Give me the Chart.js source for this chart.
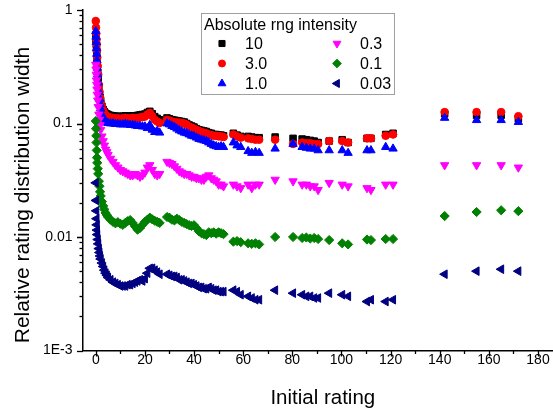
<!DOCTYPE html>
<html>
<head>
<meta charset="utf-8">
<script src="https://cdn.jsdelivr.net/npm/chart.js@4.4.0/dist/chart.umd.min.js"></script>
<style>
html,body{margin:0;padding:0;background:#fff}
</style>
</head>
<body>
<canvas id="c" width="553" height="412"></canvas>
<script>
// initial rating values shared by every intensity series
const ratings = [
0, 0.1, 0.2, 0.3, 0.4, 0.5, 0.6, 0.8, 1, 1.25, 1.5, 1.75, 2, 2.5, 3, 3.5, 4, 4.5, 5, 6,
7, 8, 9, 10, 11, 12, 13, 14, 15, 16, 17, 18, 19, 20, 21, 22, 23, 24, 25, 26,
29, 30, 31, 32, 33, 34, 35, 36, 37, 38, 39, 40, 41, 42, 43, 44, 45, 46, 47, 48,
49, 50, 51, 52, 56, 57.5, 59, 62, 63.5, 65, 66.5,
73, 80.3, 84, 85.7, 87.3, 88.9, 90.5, 95, 100.3, 102.7, 110.4, 112, 118, 121, 142, 155, 165, 172];

const width10 = [
0.60, 0.55, 0.50, 0.45, 0.40, 0.36, 0.32, 0.28, 0.25, 0.21, 0.185, 0.17, 0.158, 0.142, 0.133, 0.127, 0.123, 0.121, 0.12, 0.118,
0.117, 0.116, 0.116, 0.115, 0.116, 0.117, 0.116, 0.116, 0.117, 0.116, 0.118, 0.119, 0.12, 0.121, 0.125, 0.128, 0.122, 0.115, 0.111, 0.108,
0.112, 0.11, 0.108, 0.107, 0.106, 0.105, 0.104, 0.103, 0.1, 0.097, 0.095, 0.093, 0.09, 0.088, 0.087, 0.086, 0.085, 0.083, 0.082, 0.08,
0.08, 0.079, 0.079, 0.078, 0.082, 0.079, 0.077, 0.077, 0.076, 0.075, 0.075,
0.076, 0.074, 0.073, 0.072, 0.071, 0.07, 0.068, 0.07, 0.072, 0.068, 0.074, 0.074, 0.08, 0.082, 0.122, 0.118, 0.118, 0.11];

const width3 = [
0.80, 0.70, 0.62, 0.55, 0.50, 0.44, 0.38, 0.32, 0.27, 0.22, 0.19, 0.17, 0.155, 0.14, 0.13, 0.123, 0.119, 0.116, 0.114, 0.113,
0.112, 0.111, 0.111, 0.11, 0.111, 0.112, 0.111, 0.111, 0.112, 0.111, 0.112, 0.113, 0.114, 0.115, 0.12, 0.124, 0.116, 0.108, 0.104, 0.101,
0.108, 0.106, 0.104, 0.103, 0.102, 0.102, 0.101, 0.1, 0.098, 0.094, 0.092, 0.09, 0.088, 0.086, 0.084, 0.083, 0.082, 0.08, 0.079, 0.078,
0.078, 0.077, 0.077, 0.076, 0.08, 0.077, 0.075, 0.074, 0.073, 0.072, 0.072,
0.072, 0.066, 0.068, 0.067, 0.067, 0.066, 0.066, 0.07, 0.07, 0.068, 0.074, 0.074, 0.078, 0.08, 0.126, 0.126, 0.126, 0.116];

const width1 = [
0.65, 0.58, 0.52, 0.46, 0.41, 0.36, 0.31, 0.27, 0.23, 0.19, 0.165, 0.148, 0.135, 0.12, 0.112, 0.107, 0.104, 0.102, 0.101, 0.1,
0.1, 0.099, 0.099, 0.098, 0.098, 0.099, 0.098, 0.097, 0.097, 0.096, 0.095, 0.095, 0.094, 0.094, 0.091, 0.097, 0.088, 0.084, 0.086, 0.083,
0.1, 0.098, 0.095, 0.093, 0.09, 0.087, 0.085, 0.083, 0.082, 0.08, 0.078, 0.077, 0.075, 0.073, 0.072, 0.071, 0.07, 0.068, 0.066, 0.064,
0.063, 0.062, 0.063, 0.062, 0.068, 0.064, 0.062, 0.057, 0.055, 0.056, 0.055,
0.06, 0.066, 0.062, 0.061, 0.06, 0.06, 0.058, 0.058, 0.058, 0.055, 0.058, 0.058, 0.062, 0.06, 0.112, 0.107, 0.107, 0.103];

const width03 = [
0.33, 0.30, 0.27, 0.24, 0.22, 0.20, 0.18, 0.16, 0.14, 0.12, 0.108, 0.097, 0.088, 0.077, 0.07, 0.064, 0.059, 0.056, 0.053, 0.049,
0.046, 0.043, 0.041, 0.039, 0.038, 0.037, 0.036, 0.035, 0.035, 0.036, 0.035, 0.034, 0.035, 0.037, 0.041, 0.043, 0.039, 0.036, 0.035, 0.036,
0.046, 0.045, 0.044, 0.042, 0.04, 0.038, 0.037, 0.036, 0.036, 0.035, 0.034, 0.034, 0.033, 0.033, 0.032, 0.032, 0.034, 0.035, 0.033, 0.032,
0.031, 0.029, 0.029, 0.028, 0.029, 0.028, 0.027, 0.029, 0.027, 0.029, 0.029,
0.032, 0.031, 0.029, 0.029, 0.028, 0.028, 0.026, 0.03, 0.029, 0.028, 0.027, 0.026, 0.029, 0.029, 0.043, 0.043, 0.043, 0.041];

const width01 = [
0.105, 0.09, 0.078, 0.068, 0.058, 0.05, 0.045, 0.04, 0.036, 0.031, 0.028, 0.025, 0.023, 0.0205, 0.0188, 0.0175, 0.0163, 0.0156, 0.015, 0.0142,
0.0136, 0.0132, 0.0135, 0.0131, 0.0128, 0.0133, 0.0138, 0.0141, 0.0133, 0.0124, 0.0116, 0.012, 0.0128, 0.0136, 0.0142, 0.0148, 0.0143, 0.0139, 0.0136, 0.0133,
0.015, 0.0148, 0.0142, 0.014, 0.0145, 0.0141, 0.0136, 0.0133, 0.013, 0.0127, 0.0125, 0.0127, 0.012, 0.0112, 0.0108, 0.0106, 0.0104, 0.011, 0.0108, 0.011,
0.0107, 0.011, 0.0108, 0.0106, 0.0091, 0.0092, 0.009, 0.0088, 0.0087, 0.0088, 0.0086,
0.01, 0.01, 0.0098, 0.0099, 0.0097, 0.0098, 0.0096, 0.0094, 0.0088, 0.0086, 0.0095, 0.0094, 0.0096, 0.0096, 0.0153, 0.0166, 0.0172, 0.0169];

const width003 = [
0.03, 0.021, 0.017, 0.0145, 0.0128, 0.0115, 0.0105, 0.0095, 0.0087, 0.0079, 0.0073, 0.0068, 0.0064, 0.0059, 0.0055, 0.0051, 0.0048, 0.0046, 0.0044, 0.0042,
0.004, 0.0039, 0.0038, 0.0037, 0.0037, 0.0037, 0.0038, 0.0038, 0.0039, 0.004, 0.0041, 0.0042, 0.0041, 0.0043, 0.0048, 0.0053, 0.0053, 0.0051, 0.0049, 0.0047,
0.0047, 0.0046, 0.0045, 0.0045, 0.0044, 0.0042, 0.0042, 0.0041, 0.004, 0.0039, 0.0039, 0.0038, 0.0037, 0.0036, 0.0036, 0.0035, 0.0035, 0.0036, 0.0035, 0.0034,
0.0034, 0.0033, 0.0033, 0.0033, 0.0034, 0.0033, 0.0031, 0.003, 0.0029, 0.0028, 0.0028,
0.0034, 0.0032, 0.0031, 0.003, 0.003, 0.0029, 0.0029, 0.0032, 0.0031, 0.003, 0.0027, 0.0028, 0.0027, 0.0028, 0.0047, 0.005, 0.0052, 0.005];

const seriesLabels = ['10', '3.0', '1.0', '0.3', '0.1', '0.03'];
const xTicks = [0, 20, 40, 60, 80, 100, 120, 140, 160, 180];
const yTicks = [0.001, 0.01, 0.1, 1];
const yTickLabels = ['1E-3', '0.01', '0.1', '1'];

const FONT = 'Arial, "Liberation Sans", sans-serif';

// marker look per series, Origin style
const styles = [
{ color:'#000000', shape:'rect', r:4.6, rot:0 },
{ color:'#ff0000', shape:'circle', r:3.8, rot:0 },
{ color:'#0000ff', shape:'triangle', r:4.8, rot:0 },
{ color:'#ff00ff', shape:'triangle', r:4.8, rot:180 },
{ color:'#008000', shape:'rectRot', r:4.6, rot:0 },
{ color:'#000080', shape:'triangle', r:5.0, rot:270 }
];

function pts(ys){ return ratings.map((x,i)=>({ x, y: ys[i] })); }

const allSeries = [width10, width3, width1, width03, width01, width003];
const datasets = allSeries.map((ys,i)=>({
label: seriesLabels[i],
data: pts(ys),
order: allSeries.length - i,   // later series painted on top
pointStyle: styles[i].shape,
pointRadius: styles[i].r,
pointRotation: styles[i].rot,
pointBackgroundColor: styles[i].color,
pointBorderColor: styles[i].color,
backgroundColor: styles[i].color,
borderColor: styles[i].color,
pointBorderWidth: 1,
pointHoverRadius: styles[i].r
}));

function line(ctx,x1,y1,x2,y2){ ctx.beginPath(); ctx.moveTo(x1,y1); ctx.lineTo(x2,y2); ctx.stroke(); }

// tick marks (major + minor) and axis titles
const axisDecor = {
id: 'axisDecor',
afterDraw(chart){
const { ctx, scales:{ x, y }, chartArea:a } = chart;
ctx.save();
ctx.strokeStyle = '#000'; ctx.lineWidth = 1.3;
for (let v = 0; v <= 180; v += 10){
const p = Math.round(x.getPixelForValue(v)) + 0.5;
line(ctx, p, a.bottom, p, a.bottom + (v % 20 ? 3.5 : 6));
}
[0.001, 0.01, 0.1].forEach(d=>{
for (let k = 1; k <= 10; k++){
const v = d*k;
if (v > 1.0000001) continue;
const p = Math.round(y.getPixelForValue(v)) + 0.5;
line(ctx, a.left, p, a.left - ((k === 1 || k === 10) ? 6 : 3.5), p);
}
});
ctx.fillStyle = '#000';
ctx.font = '20.5px ' + FONT;
ctx.textAlign = 'center'; ctx.textBaseline = 'alphabetic';
ctx.fillText('Initial rating', 322.8, 404);
ctx.translate(29, 195);
ctx.rotate(-Math.PI/2);
ctx.font = '21px ' + FONT;
ctx.fillText('Relative rating distribution width', 0, 0);
ctx.restore();
}
};

// two-column legend box inside the plot
const legendBox = {
id: 'legendBox',
afterDraw(chart){
const ctx = chart.ctx;
ctx.save();
ctx.fillStyle = '#fff'; ctx.fillRect(201.5, 13.5, 193, 81);
ctx.strokeStyle = '#a0a0a0'; ctx.lineWidth = 1; ctx.strokeRect(201.5, 13.5, 193, 81);
ctx.fillStyle = '#000'; ctx.font = '16px ' + FONT;
ctx.textAlign = 'left'; ctx.textBaseline = 'alphabetic';
ctx.fillText('Absolute rng intensity', 204, 29.5);
chart.data.datasets.forEach((ds,i)=>{
const col = i < 3 ? 0 : 1, row = i % 3;
const mx = col ? 337 : 222, tx = col ? 360 : 245, my = 43.5 + row*20;
ctx.fillStyle = ds.pointBackgroundColor; ctx.strokeStyle = ds.pointBorderColor; ctx.lineWidth = 1;
Chart.helpers.drawPoint(ctx, { pointStyle: ds.pointStyle, radius: ds.pointRadius - 0.3, rotation: ds.pointRotation, borderWidth: 1 }, mx, my);
ctx.fillStyle = '#000';
ctx.fillText(ds.label, tx, my + 5.5);
});
ctx.restore();
}
};

new Chart(document.getElementById('c'), {
type: 'scatter',
data: { datasets },
plugins: [axisDecor, legendBox],
options: {
responsive: false,
animation: false,
devicePixelRatio: 1,
layout: { autoPadding: false, padding: { top: 10, right: 0, left: 0, bottom: 0 } },
plugins: { legend: { display: false }, tooltip: { enabled: false } },
scales: {
x: {
type: 'linear', min: -5.2, max: 186.1,
afterFit(s){ s.height = 61.5; s.paddingLeft = 0; s.paddingRight = 0; s.paddingTop = 0; s.paddingBottom = 0; },
afterBuildTicks(s){ s.ticks = xTicks.map(v=>({ value: v })); },
grid: { display: false, drawTicks: false },
border: { display: true, color: '#000', width: 1.5 },
ticks: { color: '#000', font: { family: FONT, size: 14 }, padding: 1, maxRotation: 0, autoSkip: false }
},
y: {
type: 'logarithmic', min: 0.001, max: 1,
afterFit(s){ s.width = 83; s.paddingLeft = 0; s.paddingRight = 0; s.paddingTop = 0; s.paddingBottom = 0; },
afterBuildTicks(s){ s.ticks = yTicks.map(v=>({ value: v })); },
grid: { display: false, drawTicks: false },
border: { display: true, color: '#000', width: 1.5 },
ticks: { color: '#000', font: { family: FONT, size: 14 }, padding: 10.5, autoSkip: false,
callback: (v, i) => yTickLabels[i] }
}
}
}
});
</script>
</body>
</html>
